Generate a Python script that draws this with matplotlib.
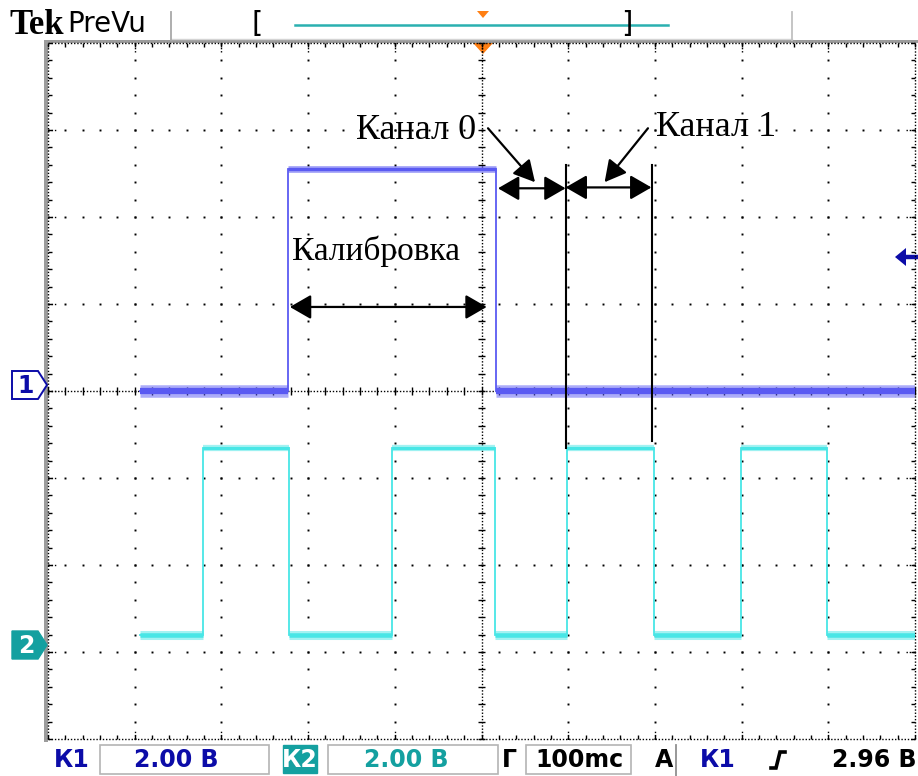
import matplotlib
matplotlib.use('Agg')
import matplotlib.pyplot as plt
from matplotlib.patches import Polygon, Rectangle
import numpy as np

# ---------------- data ----------------
ms_per_div = 100
v_per_div = 2.0
ch1_offset_div = 0.0
ch2_offset_div = -3.0
ch1_edges_ms = [-394, -223, 17, 500]
ch1_levels_v = [0.0, 5.1, 0.0]
ch2_edges_ms = [-394, -321, -222, -103, 16, 99, 199, 299, 398, 500]
ch2_levels_v = [0.4, 4.7, 0.4, 4.7, 0.4, 4.7, 0.4, 4.7, 0.4]
cal_span_ms = [-221, 6]
ch0_span_ms = [19, 97]
ch1_span_ms = [97, 196]
annot_labels = ['Калибровка', 'Канал 0', 'Канал 1']
status_labels = ['К1', '2.00 В', 'К2', '2.00 В', 'Г', '100mс', 'A', 'К1', '2.96 В']

# ---------------- colours ----------------
C1 = '#5a5af2'
C2 = '#48e6e6'
TEAL = '#14a0a0'
DBLUE = '#0c0ca8'
ORANGE = '#ff7f12'
GRAY = '#9c9c9c'

W, H = 918, 776
fig = plt.figure(figsize=(W / 100, H / 100), dpi=100)
fig.patch.set_facecolor('white')

# overlay axes in pixel coordinates
ov = fig.add_axes([0, 0, 1, 1])
ov.set_xlim(0, W)
ov.set_ylim(H, 0)
ov.axis('off')

# main scope axes (divisions)
x0, x1, y0, y1 = 48, 915, 43, 739
ax = fig.add_axes([x0 / W, (H - y1) / H, (x1 - x0) / W, (y1 - y0) / H])
ax.set_xlim(-5, 5)
ax.set_ylim(-4, 4)
ax.axis('off')
ax.patch.set_alpha(0)

# ---------- frame ----------
ov.add_patch(Rectangle((44, 40), 4, 702, color=GRAY, lw=0))
ov.add_patch(Rectangle((44, 40), 874, 3, color=GRAY, lw=0))
ov.plot([171, 792], [38.5, 38.5], color='#d4d4d4', lw=1)
ov.plot([171, 171], [12, 40], color='#a8a8a8', lw=1.3)
ov.plot([792, 792], [12, 40], color='#c0c0c0', lw=1.3)

# ---------- grid ----------
xs = np.round(np.arange(-5, 5.001, 0.2), 3)
ys = np.round(np.arange(-4, 4.001, 0.2), 3)
for i in range(-4, 5):
    if i == 0:
        continue
    ax.plot(np.full_like(ys, i), ys, 's', ms=1.4, mew=0, color='black', zorder=1)
for j in range(-3, 4):
    if j == 0:
        continue
    ax.plot(xs, np.full_like(xs, j), 's', ms=1.4, mew=0, color='black', zorder=1)
dense = dict(color='black', lw=1.0, ls=(0, (1, 1.3)), zorder=1, clip_on=False)
ax.plot([0, 0], [-4, 4], **dense)
ax.plot([-5, 5], [0, 0], **dense)
ax.plot([-5, -5], [-4, 4], **dense)
ax.plot([5, 5], [-4, 4], **dense)
ax.plot([-5, 5], [4, 4], **dense)
ax.plot([-5, 5], [-4, -4], **dense)
tk = dict(color='black', lw=1.0, zorder=1, clip_on=False)
ax.hlines(ys, -0.045, 0.045, **tk)
ax.vlines(xs, -0.045, 0.045, **tk)
ax.hlines(ys, -5, -4.955, **tk)
ax.hlines(ys, 4.955, 5, **tk)
ax.vlines(xs, 3.955, 4, **tk)
ax.vlines(xs, -4, -3.955, **tk)
maj_x = np.arange(-4, 5)
maj_y = np.arange(-3, 4)
ax.vlines(maj_x, 3.9, 4, color='black', lw=1.0, ls=(0, (1, 1.3)), clip_on=False)
ax.vlines(maj_x, -4, -3.9, color='black', lw=1.0, ls=(0, (1, 1.3)), clip_on=False)
ax.hlines(maj_y, -5, -4.9, color='black', lw=1.0, ls=(0, (1, 1.3)), clip_on=False)
ax.hlines(maj_y, 4.9, 5, color='black', lw=1.0, ls=(0, (1, 1.3)), clip_on=False)


# ---------- traces ----------
def draw_trace(edges_ms, levels_v, offset, color, band_low, band_high):
    ex = np.array(edges_ms) / ms_per_div
    lv = np.array(levels_v) / v_per_div + offset
    sx, sy = [], []
    for k in range(len(lv)):
        sx += [ex[k], ex[k + 1]]
        sy += [lv[k], lv[k]]
    ax.plot(sx, sy, color=color, lw=1.3, zorder=3, solid_joinstyle='miter')
    lowest = lv.min()
    for k in range(len(lv)):
        bw = band_low if lv[k] == lowest else band_high
        ax.plot([ex[k], ex[k + 1]], [lv[k], lv[k]], color=color, lw=bw,
                alpha=0.5, solid_capstyle='butt', zorder=3)
        ax.plot([ex[k], ex[k + 1]], [lv[k], lv[k]], color=color, lw=bw * 0.5,
                solid_capstyle='butt', zorder=3)


draw_trace(ch2_edges_ms, ch2_levels_v, ch2_offset_div, C2, 6.5, 4.5)
draw_trace(ch1_edges_ms, ch1_levels_v, ch1_offset_div, C1, 9.0, 5.0)

# ---------- annotations ----------
serif = 'Liberation Serif'
dbl = dict(arrowstyle='<|-|>,head_length=13,head_width=7.5', color='black',
           lw=1.6, shrinkA=0, shrinkB=0, mutation_scale=1)
one = dict(arrowstyle='-|>,head_length=13,head_width=7', color='black',
           lw=1.6, shrinkA=0, shrinkB=0, mutation_scale=1)
ax.annotate('', xy=(cal_span_ms[0] / ms_per_div, 0.966),
            xytext=(cal_span_ms[1] / ms_per_div, 0.966), arrowprops=dbl, zorder=5)
ax.annotate('', xy=(ch0_span_ms[0] / ms_per_div, 2.33),
            xytext=(ch0_span_ms[1] / ms_per_div, 2.33), arrowprops=dbl, zorder=5)
ax.annotate('', xy=(ch1_span_ms[0] / ms_per_div, 2.34),
            xytext=(ch1_span_ms[1] / ms_per_div, 2.34), arrowprops=dbl, zorder=5)
ax.plot([0.975, 0.975], [2.6, -0.655], color='black', lw=1.5, zorder=5)
ax.plot([1.966, 1.966], [2.6, -0.575], color='black', lw=1.5, zorder=5)
ax.annotate('', xy=(0.617, 2.40), xytext=(0.075, 3.02), arrowprops=one, zorder=5)
ax.annotate('', xy=(1.42, 2.40), xytext=(1.92, 3.02), arrowprops=one, zorder=5)
ax.text(-1.22, 1.61, annot_labels[0], family=serif, fontsize=24,
        ha='center', va='center', zorder=6)
ax.text(-0.755, 2.99, annot_labels[1], family=serif, fontsize=26,
        ha='center', va='center', zorder=6)
ax.text(2.71, 3.03, annot_labels[2], family=serif, fontsize=26,
        ha='center', va='center', zorder=6)

# ---------- top bar ----------
ov.text(9, 34, 'Tek', family=serif, fontweight='bold', fontsize=25, va='baseline')
ov.text(67, 32, 'PreVu', family='DejaVu Sans', fontsize=20, va='baseline')
ov.text(257, 24, '[', family='DejaVu Sans', fontsize=21, va='center', ha='center')
ov.text(627, 24, ']', family='DejaVu Sans', fontsize=21, va='center', ha='center')
ov.plot([295, 668], [24.5, 24.5], color='#2ab0b0', lw=1.8)
ov.add_patch(Polygon([(477, 11), (489, 11), (483, 18)], color=ORANGE, lw=0))
ov.add_patch(Polygon([(473, 43), (493, 43), (483, 54)], color=ORANGE, lw=0, zorder=10))

# ---------- channel markers ----------
ov.add_patch(Polygon([(12, 371), (38, 371), (47, 385), (38, 399), (12, 399)],
                     facecolor='white', edgecolor=DBLUE, lw=1.4, zorder=10))
ov.text(26, 386, '1', family='DejaVu Sans', fontsize=17, color=DBLUE,
        fontweight='bold', ha='center', va='center', zorder=11)
ov.add_patch(Polygon([(12, 631), (38, 631), (47, 645), (38, 659), (12, 659)],
                     facecolor=TEAL, edgecolor=TEAL, lw=1, zorder=10))
ov.text(26, 646, '2', family='DejaVu Sans', fontsize=17, color='white',
        fontweight='bold', ha='center', va='center', zorder=11)
ov.add_patch(Polygon([(895, 257), (906, 248), (906, 266)], color=DBLUE, lw=0, zorder=10))
ov.plot([904, 916], [257, 257], color=DBLUE, lw=3.2, zorder=10)

# ---------- status bar ----------
SFS = 17
sans = 'DejaVu Sans'
ty = 760
box = dict(facecolor='white', edgecolor='#b4b4b4', lw=1.2)
ov.add_patch(Rectangle((100, 745), 169, 29, **box))
ov.add_patch(Rectangle((328, 745), 170, 29, **box))
ov.add_patch(Rectangle((526, 745), 105, 29, **box))
ov.add_patch(Rectangle((283, 745), 34, 28, facecolor=TEAL, edgecolor=TEAL))
ov.plot([676, 676], [745, 776], color='#909090', lw=1.3)
st = dict(family=sans, fontsize=SFS, fontweight='bold', va='center')
ov.text(72, ty, status_labels[0], color=DBLUE, ha='center', **st)
ov.text(176, ty, status_labels[1], color=DBLUE, ha='center', **st)
ov.text(300, ty, status_labels[2], color='white', ha='center', **st)
ov.text(406, ty, status_labels[3], color=TEAL, ha='center', **st)
ov.text(509, ty, status_labels[4], color='black', ha='center', **st)
ov.text(579, ty, status_labels[5], color='black', ha='center', **st)
ov.text(664, ty, status_labels[6], color='black', ha='center', **st)
ov.text(718, ty, status_labels[7], color=DBLUE, ha='center', **st)
ov.plot([771, 776, 780, 785], [768, 768, 752, 752], color='black', lw=2.6,
        solid_joinstyle='miter')
ov.text(917, ty, status_labels[8], color='black', ha='right', **st)

fig.savefig('out.png', dpi=100, facecolor='white')
